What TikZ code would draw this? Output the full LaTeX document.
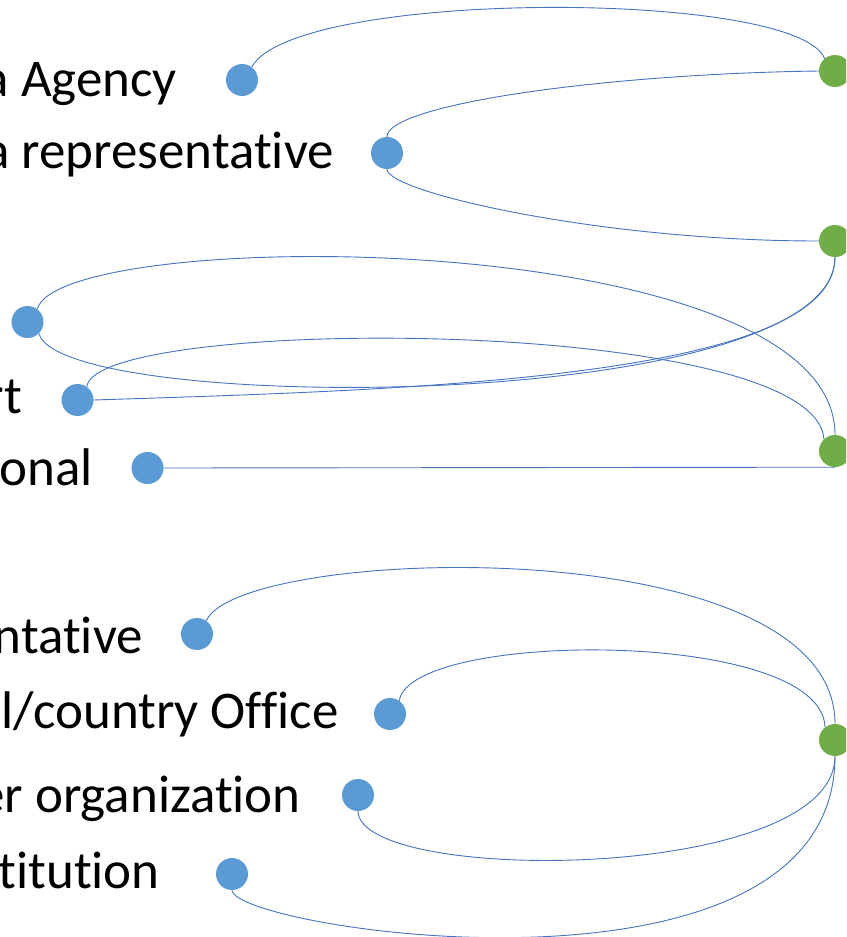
\documentclass[tikz,border=0pt]{standalone}
\usepackage{fontspec}
\setmainfont[Ligatures=NoCommon]{Carlito}
\definecolor{dotblue}{HTML}{5B9BD5}
\definecolor{dotgreen}{HTML}{70AD47}
\definecolor{linkblue}{HTML}{4472C4}
\tikzset{
  bdot/.style={circle,fill=dotblue,draw=none,minimum size=32pt,inner sep=0pt},
  gdot/.style={circle,fill=dotgreen,draw=none,minimum size=32pt,inner sep=0pt},
  lbl/.style={anchor=base east,inner sep=0pt,font=\fontsize{53}{64}\selectfont},
  link/.style={draw=linkblue,line width=0.9pt}
}
\begin{document}
\begin{tikzpicture}[x=1pt,y=-1pt]
\useasboundingbox (0,0) rectangle (846,937);
\clip (0,0) rectangle (846,937);
% dots
\node[bdot] (b1) at (242,80) {};
\node[bdot] (b2) at (387,153) {};
\node[bdot] (b3) at (27.5,322) {};
\node[bdot] (b4) at (77.5,400) {};
\node[bdot] (b5) at (147.5,468) {};
\node[bdot] (b6) at (197,634) {};
\node[bdot] (b7) at (390,714) {};
\node[bdot] (b8) at (358,795) {};
\node[bdot] (b9) at (232,874) {};
\node[gdot] (g1) at (835,71) {};
\node[gdot] (g2) at (835,241) {};
\node[gdot] (g3) at (835,451) {};
\node[gdot] (g4) at (835,740) {};
% labels
\node[lbl] (t1) at (177,96) {a Agency};
\node[lbl] (t2) at (334,168) {a representative};
\node[lbl] (t3) at (22,413) {rt};
\node[lbl] (t4) at (93,485) {onal};
\node[lbl] (t5) at (143,653) {ntative};
\node[lbl] (t6) at (339,728) {l/country Office};
\node[lbl] (t7) at (301,812) {er organization};
\node[lbl] (t8) at (160,888) {titution};
% connectors
\draw[link] (b1.53) .. controls (294,-11) and (797,-11) .. (g1.130);
\draw[link] (b2.north) .. controls (387,105) and (600,74) .. (g1.west);
\draw[link] (b2.south) .. controls (387,192) and (600,241) .. (g2.west);
\draw[link] (b3.53) .. controls (60,225) and (835,225) .. (g3.north);
\draw[link] (b3.-45) .. controls (60,415) and (835,415) .. (g2.south);
\draw[link] (b4.east) .. controls (400,390) and (835,380) .. (g2.south);
\draw[link] (b4.55) .. controls (95,315) and (815,315) .. (g3.133);
\draw[link] (b5.east) -- (g3.south);
\draw[link] (b6.55) .. controls (240,545) and (835,527) .. (g4.north);
\draw[link] (b7.55) .. controls (410,630) and (822,628) .. (g4.128);
\draw[link] (b8.south) .. controls (360,885) and (835,883) .. (g4.south);
\draw[link] (b9.south) .. controls (235,930) and (835,1020) .. (g4.south);
\end{tikzpicture}
\end{document}
